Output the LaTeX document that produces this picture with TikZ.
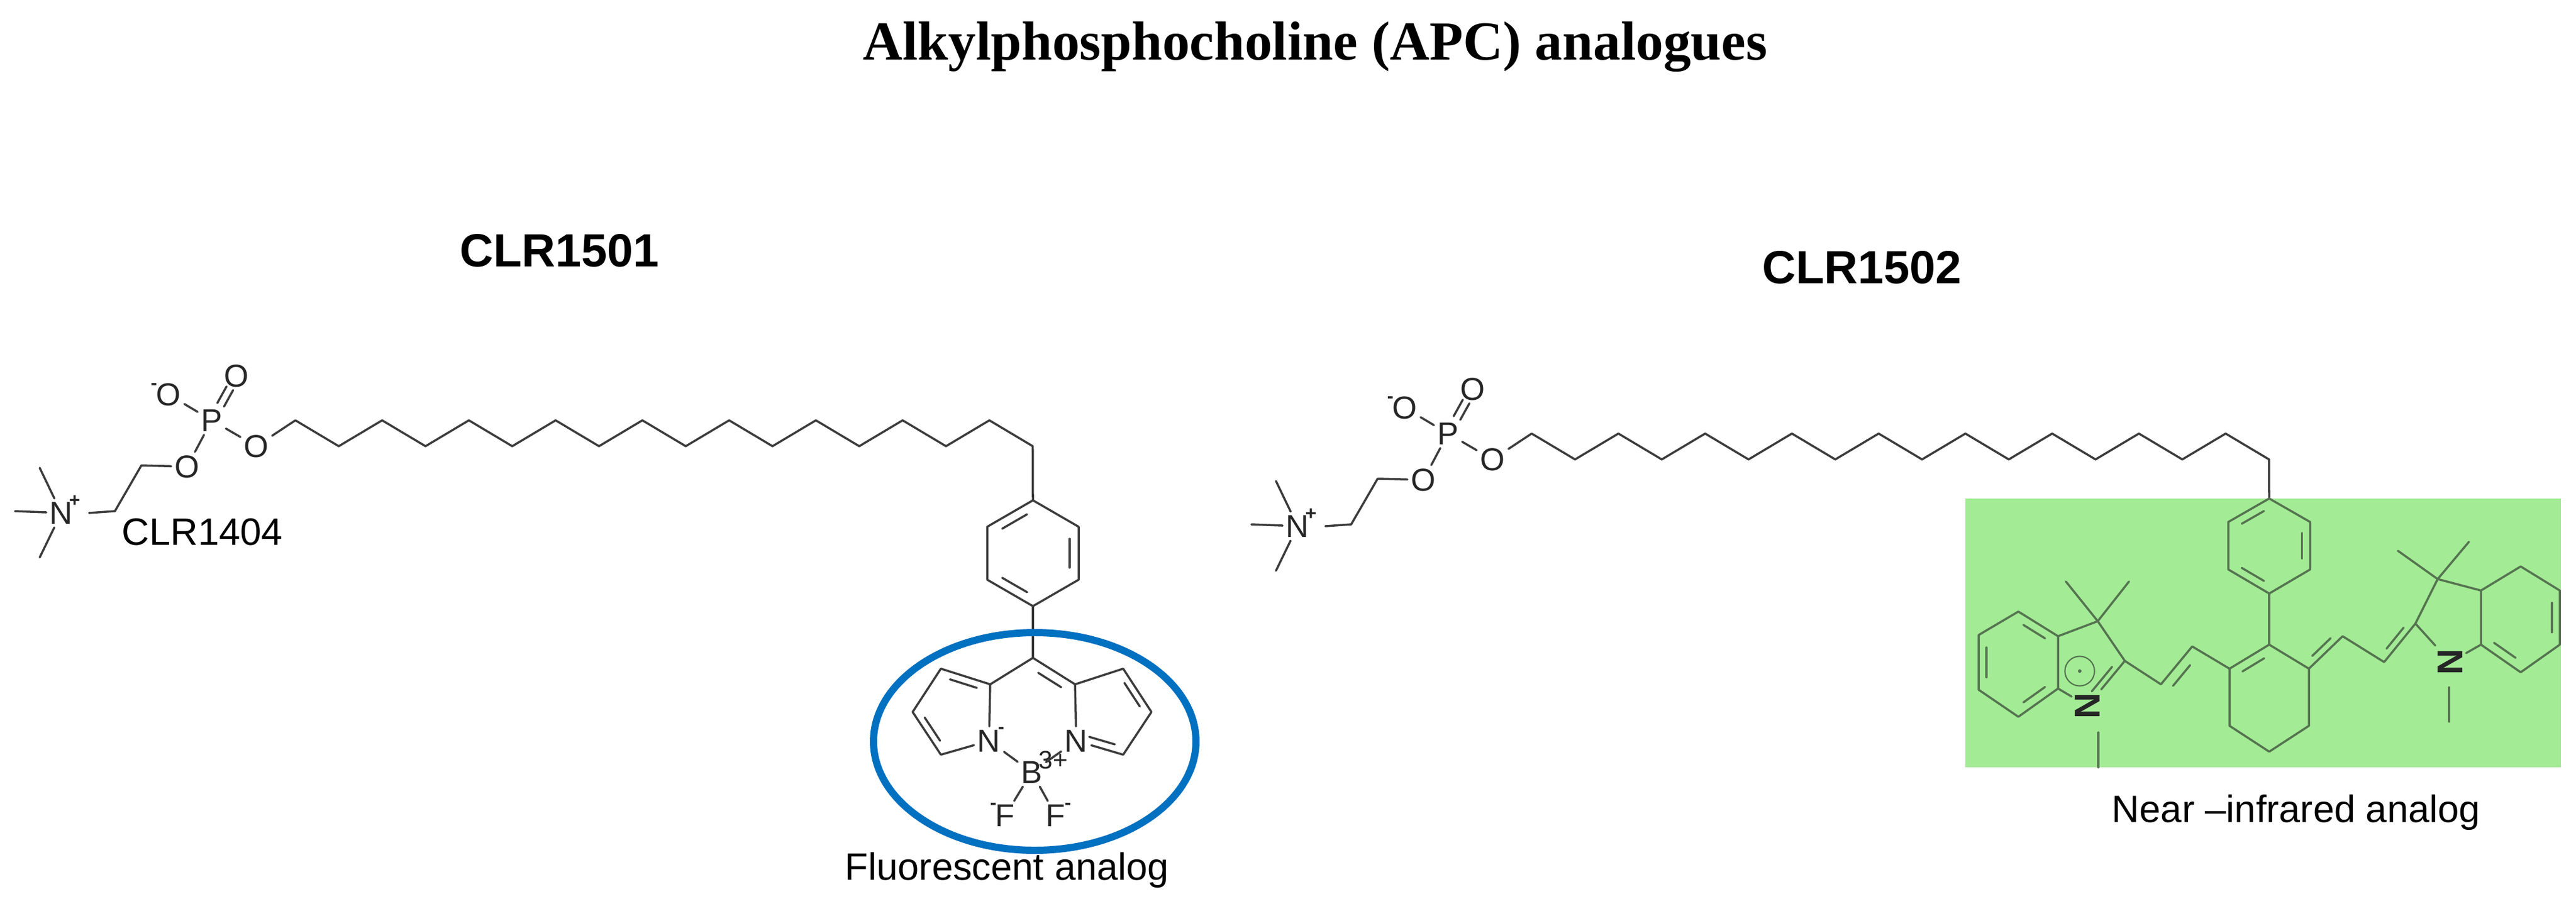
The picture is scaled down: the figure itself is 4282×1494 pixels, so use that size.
\documentclass[tikz,border=0pt]{standalone}
\usepackage{fontspec}
\setmainfont{Liberation Sans}
\newfontfamily\titlefont{Liberation Serif}
\usetikzlibrary{calc}
\definecolor{bondc}{RGB}{60,60,60}
\definecolor{gbond}{RGB}{85,115,80}
\definecolor{boxg}{RGB}{163,235,149}
\definecolor{ellc}{RGB}{0,112,192}
\newcommand\dbl[4][bond]{\draw[#1] ($(#2)!.16!(#3)!.2!(#4)$) -- ($(#3)!.16!(#2)!.2!(#4)$);}
\newcommand\apchead[1]{%
  \node[atom] (#1N) at (102,853) {N};
  \node[chg] at ($(#1N)+(22,-20)$) {+};
  \coordinate (#1m1) at (25,850); \coordinate (#1m2) at (66,778); \coordinate (#1m3) at (66,927);
  \draw[bond] (#1N) -- (#1m1); \draw[bond] (#1N) -- (#1m2); \draw[bond] (#1N) -- (#1m3);
  \coordinate (#1a1) at (191,850); \coordinate (#1a2) at (235,774);
  \node[atom] (#1O1) at (311,776) {O};
  \node[atom] (#1P) at (352,699) {P};
  \node[atom] (#1Om) at (280,656) {O};
  \node[chg] at ($(#1Om)+(-24,-14)$) {-};
  \node[atom] (#1O2) at (393,625) {O};
  \node[atom] (#1O3) at (426,742) {O};
  \draw[bond] ([xshift=6]#1N.east) -- (#1a1) -- (#1a2) -- (#1O1);
  \draw[bond] (#1O1) -- (#1P); \draw[bond] (#1P) -- (#1Om); \draw[bond] (#1P) -- (#1O3);
  \draw[bond] ($(#1P)!.35!(#1O2)+(-5,-3)$) -- ($(#1P)!.72!(#1O2)+(-5,-3)$);
  \draw[bond] ($(#1P)!.35!(#1O2)+(6,3)$) -- ($(#1P)!.72!(#1O2)+(6,3)$);
  \foreach \k in {0,...,17}{
    \pgfmathsetmacro\xx{491+72.1*\k}
    \pgfmathsetmacro\yy{mod(\k,2)==1 ? 742 : 699}
    \coordinate (#1c\k) at (\xx,\yy);}
  \draw[bond] (#1O3) -- (#1c0) -- (#1c1) -- (#1c2) -- (#1c3) -- (#1c4) -- (#1c5) -- (#1c6) -- (#1c7) -- (#1c8) -- (#1c9) -- (#1c10) -- (#1c11) -- (#1c12) -- (#1c13) -- (#1c14) -- (#1c15) -- (#1c16) -- (#1c17);
}
\begin{document}
\begin{tikzpicture}[x=0.01cm,y=-0.01cm,
  bond/.style={draw=bondc,line width=1pt,line cap=round,line join=round},
  gb/.style={draw=gbond,line width=1pt,line cap=round,line join=round},
  atom/.style={inner sep=1.5pt,font=\fontsize{15}{15}\selectfont,text=black!85},
  chg/.style={inner sep=0pt,font=\fontsize{9}{9}\selectfont\bfseries,text=black!85},
  gn/.style={inner sep=1.5pt,font=\fontsize{17}{17}\selectfont\bfseries,text=black!85,rotate=90}]
\useasboundingbox (0,0) rectangle (4282,1494);
\fill[white] (0,0) rectangle (4282,1494);
% titles
\node (title) at (2186,78) {\titlefont\bfseries\fontsize{26}{30}\selectfont Alkylphosphocholine (APC) analogues};
\node (t1) at (930,417) {\bfseries\fontsize{22}{24}\selectfont CLR1501};
\node (t2) at (3095,445) {\bfseries\fontsize{22}{24}\selectfont CLR1502};
% ---------------- left molecule
\apchead{L}
\node[anchor=west] (clr1404) at (190,885) {\fontsize{18}{18}\selectfont CLR1404};
\coordinate (b1) at (1717,832); \coordinate (b2) at (1641,876); \coordinate (b3) at (1641,964);
\coordinate (b4) at (1717,1008); \coordinate (b5) at (1793,964); \coordinate (b6) at (1793,876);
\coordinate (bc) at (1717,920);
\draw[bond] (Lc17) -- (b1);
\draw[bond] (b1) -- (b2) -- (b3) -- (b4) -- (b5) -- (b6) -- cycle;
\dbl{b1}{b2}{bc} \dbl{b5}{b6}{bc} \dbl{b3}{b4}{bc}
\coordinate (m) at (1717,1094);
\draw[bond] (b4) -- (m);
\coordinate (La) at (1646,1138); \coordinate (Lb) at (1564,1255); \coordinate (Lc) at (1517,1184); \coordinate (Ld) at (1564,1112);
\coordinate (Ra) at (1787,1138); \coordinate (Rb) at (1867,1255); \coordinate (Rc) at (1914,1184); \coordinate (Rd) at (1867,1112);
\node[atom] (LN) at (1644,1232) {N}; \node[chg] at ($(LN)+(20,-18)$) {-};
\node[atom] (RN) at (1789,1232) {N};
\node[atom] (B) at (1715,1284) {B}; \node[chg,font=\fontsize{12}{12}\selectfont] at ($(B)+(36,-20)$) {3+};
\node[atom] (F1) at (1671,1356) {F}; \node[chg] at ($(F1)+(-20,-16)$) {-};
\node[atom] (F2) at (1755,1356) {F}; \node[chg] at ($(F2)+(20,-16)$) {-};
\coordinate (lpc) at (1587,1184); \coordinate (rpc) at (1847,1184); \coordinate (cc) at (1716,1190);
\draw[bond] (LN) -- (La) -- (Ld) -- (Lc) -- (Lb) -- (LN);
\draw[bond] (RN) -- (Ra) -- (Rd) -- (Rc) -- (Rb) -- (RN);
\draw[bond] (La) -- (m) -- (Ra);
\dbl{La}{Ld}{lpc} \dbl{Lc}{Lb}{lpc} \dbl{m}{Ra}{cc} \dbl{Rd}{Rc}{rpc} \dbl{RN}{Rb}{rpc}
\draw[bond] (LN) -- (B); \draw[bond] (RN) -- (B);
\draw[bond] (B) -- (F1); \draw[bond] (B) -- (F2);
\draw[ellc,line width=3.4pt] (1720,1233) ellipse (268 and 181);
\node (fl) at (1674,1447) {\fontsize{18}{18}\selectfont Fluorescent analog};
% ---------------- right molecule
\begin{scope}[shift={(2055,22)}]
\apchead{R}
\end{scope}
\fill[boxg] (3267,829) rectangle (4257,1276);
\coordinate (k1) at (3772,829); \coordinate (k2) at (3704,868); \coordinate (k3) at (3704,947);
\coordinate (k4) at (3772,987); \coordinate (k5) at (3840,947); \coordinate (k6) at (3840,868);
\coordinate (kc) at (3772,908);
\draw[bond] (Rc17) -- (k1);
\draw[gb] (k1) -- (k2) -- (k3) -- (k4) -- (k5) -- (k6) -- cycle;
\dbl[gb]{k1}{k2}{kc} \dbl[gb]{k5}{k6}{kc} \dbl[gb]{k3}{k4}{kc}
\coordinate (C1) at (3772,1072); \coordinate (Cl) at (3706,1112); \coordinate (Cr) at (3838,1112);
\coordinate (Clb) at (3706,1207); \coordinate (Crb) at (3838,1207); \coordinate (Cb) at (3772,1250);
\coordinate (hc) at (3772,1160);
\draw[gb] (k4) -- (C1);
\draw[gb] (C1) -- (Cl) -- (Clb) -- (Cb) -- (Crb) -- (Cr) -- cycle;
\dbl[gb]{C1}{Cl}{hc}
% left polymethine
\coordinate (v1) at (3644,1075); \coordinate (v2) at (3592,1138); \coordinate (C2) at (3532,1099);
\draw[gb] (Cl) -- (v1) -- (v2) -- (C2);
\dbl[gb]{v1}{v2}{3660,1190}
\coordinate (C3) at (3487,1033); \coordinate (C3a) at (3421,1058); \coordinate (C7a) at (3421,1145);
\node[gn] (NL) at (3470,1174) {N};
\coordinate (ic) at (3466,1100);
\draw[gb] (C2) -- (C3) -- (C3a) -- (C7a) -- (NL) -- (C2);
\dbl[gb]{C2}{NL}{ic}
\draw[gb] (C3) -- (3434,967); \draw[gb] (C3) -- (3539,967);
\draw[gb] (3488,1218) -- (3488,1276);
\coordinate (C4) at (3355,1017); \coordinate (C5) at (3289,1056); \coordinate (C6) at (3289,1147); \coordinate (C7) at (3355,1192);
\coordinate (bzc) at (3355,1102);
\draw[gb] (C3a) -- (C4) -- (C5) -- (C6) -- (C7) -- (C7a);
\dbl[gb]{C4}{C3a}{bzc} \dbl[gb]{C5}{C6}{bzc} \dbl[gb]{C7}{C7a}{bzc}
\node[draw=gbond,circle,line width=0.6pt,minimum size=14pt,inner sep=0pt] (pc) at (3457,1116) {};
\fill[gbond] (pc) circle (3);
% right polymethine
\coordinate (w1) at (3894,1058); \coordinate (w2) at (3963,1101); \coordinate (D2) at (4015,1037);
\draw[gb] (Cr) -- (w1) -- (w2) -- (D2);
\dbl[gb]{Cr}{w1}{3830,1040} \dbl[gb]{w2}{D2}{3950,1030}
\coordinate (D3) at (4052,963); \coordinate (D3a) at (4124,982); \coordinate (D7a) at (4124,1072);
\node[gn] (NR) at (4073,1101) {N};
\draw[gb] (D2) -- (D3) -- (D3a) -- (D7a) -- (NR) -- (D2);
\draw[gb] (D3) -- (3986,916); \draw[gb] (D3) -- (4104,901);
\draw[gb] (4071,1143) -- (4071,1200);
\coordinate (D4) at (4190,942); \coordinate (D5) at (4255,982); \coordinate (D6) at (4255,1072); \coordinate (D7) at (4190,1118);
\coordinate (dzc) at (4190,1027);
\draw[gb] (D3a) -- (D4) -- (D5) -- (D6) -- (D7) -- (D7a);
\dbl[gb]{D5}{D6}{dzc} \dbl[gb]{D7}{D7a}{dzc}
\node (nir) at (3817,1351) {\fontsize{18}{18}\selectfont Near –infrared analog};
\end{tikzpicture}
\end{document}
